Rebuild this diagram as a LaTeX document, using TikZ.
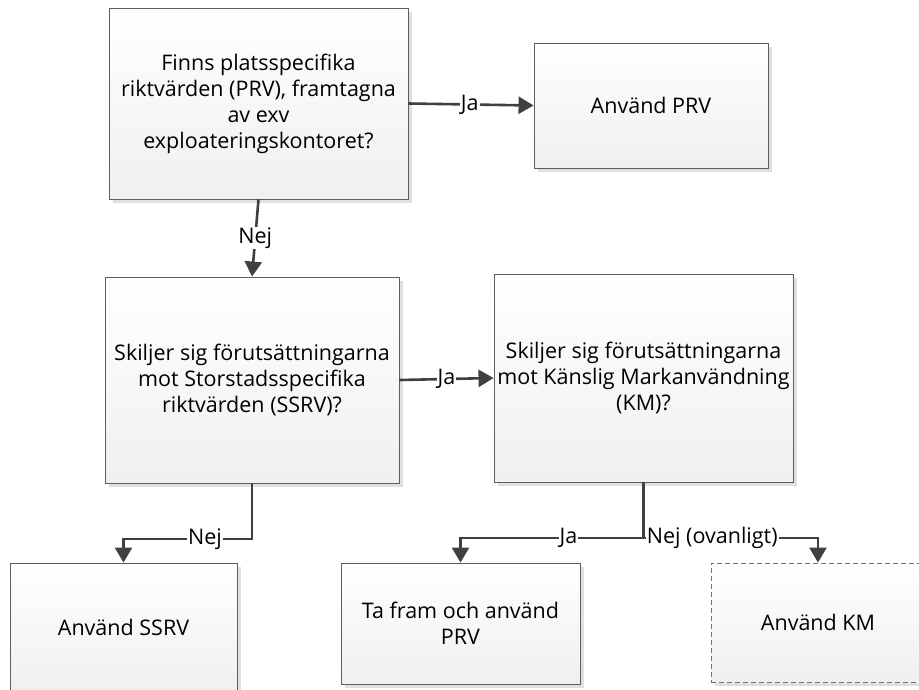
\documentclass[tikz,border=0pt]{standalone}
\usepackage{fontspec}
\setmainfont{Open Sans}
\usetikzlibrary{arrows.meta,shadows}
\definecolor{rim}{HTML}{5E5E5E}
\definecolor{wire}{HTML}{404040}
\tikzset{
  box/.style={draw=rim,line width=0.9pt,top color=white,bottom color=black!6,
    drop shadow={shadow xshift=3.5pt,shadow yshift=-3.5pt,fill=black!12,opacity=1},
    inner sep=0pt,align=center,font=\fontsize{21.5}{26}\selectfont},
  dbox/.style={box,dashed,dash pattern=on 5pt off 3pt,draw=black!55},
  conn/.style={draw=wire,line width=2.6pt,-{Triangle[width=17pt,length=15pt]}},
  lbl/.style={fill=white,inner sep=1pt,font=\fontsize{21.5}{26}\selectfont}
}
\begin{document}
\begin{tikzpicture}[x=1pt,y=-1pt]
			\useasboundingbox (0,0) rectangle (919,689);
			\node[box,minimum width=299pt,minimum height=191pt] (fin) at (258.5,103.5) {Finns platsspecifika\\riktvärden (PRV), framtagna\\av exv\\exploateringskontoret?};
			\node[box,minimum width=234pt,minimum height=125pt] (prv) at (651,105.5) {Använd PRV};
			\node[box,minimum width=294pt,minimum height=206pt] (ssk) at (252,380) {Skiljer sig förutsättningarna\\mot Storstadsspecifika\\riktvärden (SSRV)?};
			\node[box,minimum width=299pt,minimum height=208pt] (kmq) at (643.5,378) {Skiljer sig förutsättningarna\\mot Känslig Markanvändning\\(KM)?};
			\node[box,minimum width=227pt,minimum height=128pt] (ssrv) at (123.5,627) {Använd SSRV};
			\node[box,minimum width=239pt,minimum height=121pt] (tfp) at (460.5,623.5) {Ta fram och använd\\PRV};
			\node[dbox,minimum width=214pt,minimum height=119pt] (akm) at (818,622.5) {Använd KM};
			\coordinate (b1) at (252,539);
			\coordinate (b2) at (643.5,538);
			\draw[conn] (fin.east) -- node[lbl,pos=0.49] {Ja} (prv.west);
			\draw[conn] (fin.south) -- node[lbl] {Nej} (ssk.north);
			\draw[conn] (ssk.east) -- node[lbl] {Ja} (kmq.west);
			\draw[conn] (ssk.south) -- (b1) -| node[lbl,pos=0.183] {Nej} (ssrv.north);
			\draw[conn] (kmq.south) -- (b2) -| node[lbl,pos=0.205] {Ja} (tfp.north);
			\draw[conn] (b2) -| node[lbl,pos=0.197] {Nej (ovanligt)} (akm.north);
		\end{tikzpicture}
\end{document}
